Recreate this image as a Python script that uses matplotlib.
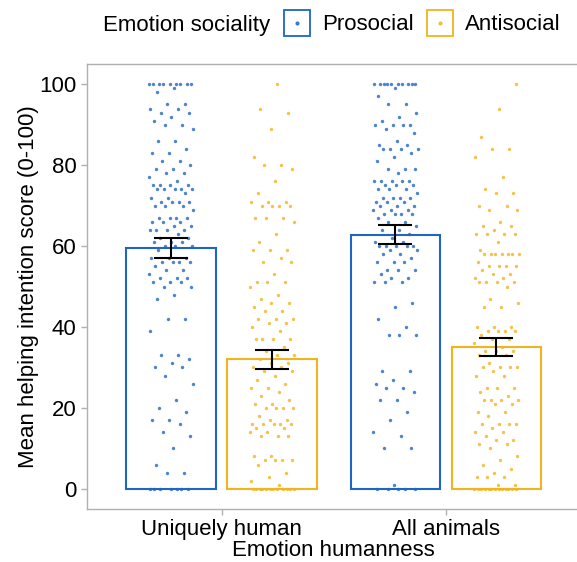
import numpy as np
import matplotlib
matplotlib.use("Agg")
import matplotlib.pyplot as plt
from matplotlib.lines import Line2D
from matplotlib.legend_handler import HandlerTuple

plt.rcParams['font.family'] = ['Liberation Sans', 'DejaVu Sans']

# data
humanness = ["Uniquely human", "All animals"]
sociality = ["Prosocial", "Antisocial"]
colors = {"Prosocial": "#1F66C2", "Antisocial": "#F0B51E"}

# group means and error bar ends (mean - se, mean + se)
means = {("Uniquely human", "Prosocial"): 59.5, ("Uniquely human", "Antisocial"): 32.0,
         ("All animals", "Prosocial"): 62.8, ("All animals", "Antisocial"): 35.0}
err_low = {("Uniquely human", "Prosocial"): 57.0, ("Uniquely human", "Antisocial"): 29.6,
           ("All animals", "Prosocial"): 60.5, ("All animals", "Antisocial"): 32.8}
err_high = {("Uniquely human", "Prosocial"): 62.0, ("Uniquely human", "Antisocial"): 34.4,
            ("All animals", "Prosocial"): 65.2, ("All animals", "Antisocial"): 37.2}

# individual scores
uh_pro = [100]*9 + [99, 98, 95, 95, 94, 94, 93, 93, 92, 91, 90, 90, 89, 86, 86, 84, 83, 83, 81, 81,
                    80, 79, 79, 78, 78, 77, 76, 75, 75, 75, 75, 74, 74, 74, 74, 74, 73, 72, 72, 71, 71,
                    71, 71, 70, 70, 70, 69, 67, 67, 67, 67, 66, 66, 66, 65, 65, 64, 64, 64, 64, 63, 62,
                    62, 61, 61, 61, 60, 60, 60, 59, 57, 57, 57, 56, 56, 56, 56, 55, 54, 54, 53, 52, 52,
                    52, 51, 51, 51, 50, 50, 48, 47, 42, 42, 39, 33, 33, 32, 31, 30, 30, 28, 26, 22, 20,
                    19, 17, 17, 16, 14, 13, 10, 6, 4, 4] + [0]*7
uh_anti = [100, 94, 93, 89, 82, 80, 80, 79, 76, 73, 71, 71, 71, 70, 70, 70, 70, 67, 67, 67, 66, 63,
           61, 59, 59, 59, 57, 56, 56, 53, 51, 51, 51, 50, 48, 47, 46, 46, 45, 44, 44, 42, 42, 42,
           41, 41, 40, 39, 37, 37, 37, 37, 35, 34, 33, 33, 32, 31, 31, 30, 30, 29, 29, 28, 27, 26,
           25, 25, 24, 23, 22, 21, 21, 20, 20, 20, 20, 18, 17, 17, 16, 16, 16, 16, 16, 15, 15, 14,
           14, 13, 13, 13, 8, 8, 7, 7, 7, 7, 6, 4, 3, 2, 1] + [0]*12
aa_pro = [100]*10 + [99, 97, 95, 95, 93, 92, 91, 90, 90, 90, 90, 89, 88, 86, 85, 85, 84, 84, 84, 84,
                     83, 82, 81, 79, 79, 79, 78, 76, 76, 76, 76, 76, 75, 75, 75, 74, 74, 74, 73, 72,
                     72, 72, 72, 71, 71, 71, 70, 70, 70, 69, 69, 69, 68, 68, 68, 68, 67, 66, 66, 65,
                     64, 64, 63, 62, 61, 61, 60, 60, 60, 60, 60, 59, 59, 58, 58, 57, 56, 56, 56, 54,
                     54, 54, 53, 52, 52, 51, 51, 51, 46, 45, 42, 40, 38, 38, 38, 29, 29, 27, 26, 25,
                     25, 24, 22, 22, 19, 17, 14, 13, 10, 10, 1] + [0]*5
aa_anti = [100, 94, 87, 84, 84, 82, 77, 74, 73, 73, 70, 70, 69, 69, 66, 65, 65, 64, 63, 63, 63, 63,
           61, 59, 58, 58, 58, 58, 58, 58, 58, 56, 55, 55, 55, 55, 54, 53, 53, 52, 52, 51, 51, 51,
           51, 50, 47, 46, 45, 45, 40, 40, 40, 39, 39, 39, 39, 38, 37, 37, 36, 35, 34, 34, 34, 33,
           33, 31, 30, 30, 30, 30, 29, 28, 28, 25, 25, 25, 24, 23, 22, 22, 22, 22, 21, 21, 19, 19,
           18, 16, 16, 16, 16, 15, 14, 14, 13, 12, 12, 11, 11, 10, 8, 7, 6, 5, 4, 3, 3, 3, 1, 1] + [0]*13

scores = {("Uniquely human", "Prosocial"): uh_pro, ("Uniquely human", "Antisocial"): uh_anti,
          ("All animals", "Prosocial"): aa_pro, ("All animals", "Antisocial"): aa_anti}

fig = plt.figure(figsize=(5.77, 5.62), dpi=100)
ax = fig.add_axes([87/577, 53/562, 493.5/577, 445/562])

dodge = 0.225
bar_w = 0.4
for i, h in enumerate(humanness):
    for j, s in enumerate(sociality):
        xc = i + 1 + (-dodge if j == 0 else dodge)
        col = colors[s]
        ax.bar(xc, means[(h, s)], width=bar_w, facecolor="none", edgecolor=col,
               linewidth=1.5, zorder=2)
        vals = np.array(scores[(h, s)], dtype=float)
        n = len(vals)
        # spread points sideways (deterministic jitter)
        jit = ((np.arange(n) * 0.6180339887 + 0.31 * (i + 2 * j)) % 1 - 0.5) * 0.2
        ax.scatter(xc + jit, vals, s=6, color=col, alpha=0.8, linewidths=0, zorder=3)
        m = means[(h, s)]
        ax.errorbar(xc, m, yerr=[[m - err_low[(h, s)]], [err_high[(h, s)] - m]],
                    fmt="none", ecolor="black", elinewidth=1.5, capsize=12, capthick=1.5,
                    zorder=4)

ax.set_xlim(0.4, 2.6)
ax.set_ylim(-5, 105)
ax.set_xticks([1, 2])
ax.set_xticklabels(humanness, fontsize=16)
ax.set_yticks([0, 20, 40, 60, 80, 100])
ax.tick_params(axis="both", labelsize=16, color="#b0b0b0", length=4, width=1,
               labelcolor="black")
for sp in ax.spines.values():
    sp.set_color("#b0b0b0")
    sp.set_linewidth(1)
ax.set_xlabel("Emotion humanness", fontsize=16, labelpad=0)
ax.set_ylabel("Mean helping intention score (0-100)", fontsize=16, labelpad=0)

# legend on top
handles = []
for s in sociality:
    sq = Line2D([], [], linestyle="none", marker="s", markersize=19, markerfacecolor="white",
                markeredgecolor=colors[s], markeredgewidth=1.3)
    dot = Line2D([], [], linestyle="none", marker="o", markersize=2, color=colors[s], alpha=0.8)
    handles.append((sq, dot))
fig.text(103/577, 1 - 25/562, "Emotion sociality", fontsize=16, ha="left", va="center")
fig.legend(handles, sociality, handler_map={tuple: HandlerTuple(ndivide=1, pad=0)},
           loc="center left", bbox_to_anchor=(284/577, 1 - 25/562), ncol=2, frameon=False,
           fontsize=16, handlelength=1.2, handletextpad=0.5, columnspacing=0.6,
           borderpad=0, borderaxespad=0)

fig.savefig("out.png", dpi=100)
